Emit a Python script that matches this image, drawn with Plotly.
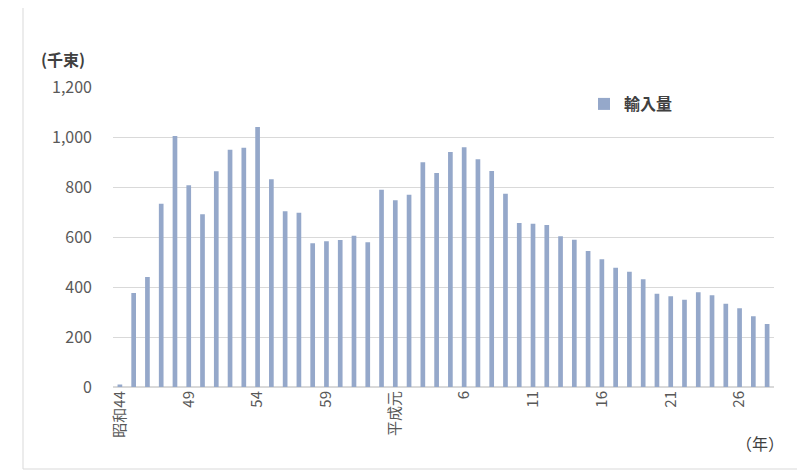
import plotly.graph_objects as go

years = list(range(1969, 2017))
labels = (["昭和44"] + [str(n) for n in range(45, 64)] + ["平成元"] + [str(n) for n in range(2, 29)])
values = [10, 376, 440, 733, 1004, 807, 691, 863, 949, 957,
          1040, 831, 703, 697, 575, 583, 588, 605, 579, 789,
          747, 769, 899, 856, 940, 959, 911, 864, 773, 656,
          653, 648, 603, 589, 544, 511, 477, 461, 431, 373,
          363, 349, 379, 367, 333, 315, 283, 252]
tick_labels = ["昭和44", "49", "54", "59", "平成元", "6", "11", "16", "21", "26"]

FONT = "Noto Sans CJK JP"
fig = go.Figure()
fig.add_trace(go.Bar(x=labels, y=values, name="<b>輸入量</b>",
                     marker=dict(color="#95A8CA", line=dict(width=0))))

OFF = 8  # page body margin
W, H = 797, 463
L, T = 113 - OFF, 87 - OFF
R = W - (774 - OFF)
B = H - (387 - OFF)
pw, ph = W - L - R, H - T - B
def px(p): return (p - OFF - L) / pw
def py(q): return (H - B - (q - OFF)) / ph

fig.update_layout(
    width=W, height=H,
    margin=dict(l=L, r=R, t=T, b=B),
    paper_bgcolor="white", plot_bgcolor="white",
    bargap=0.66,
    font=dict(family=FONT, color="#595959", size=15),
    showlegend=True,
    legend=dict(x=px(584), y=py(104), xanchor="left", yanchor="middle",
                font=dict(size=16, color="#404040"), bgcolor="rgba(0,0,0,0)",
                itemwidth=30),
    xaxis=dict(type="category", tickmode="array", tickvals=tick_labels, ticktext=tick_labels,
               tickangle=-90, showgrid=False, showline=False, ticks="",
               tickfont=dict(size=15, color="#595959")),
    yaxis=dict(range=[0, 1200], dtick=200, tickformat=",", showgrid=True,
               gridcolor="#D9D9D9", gridwidth=1, zeroline=True, zerolinecolor="#D9D9D9",
               showline=False, ticks="", ticklabelstandoff=20,
               tickfont=dict(size=16, color="#595959")),
    shapes=[dict(type="rect", xref="paper", yref="paper",
                 x0=px(23), x1=px(798), y0=py(469), y1=py(6),
                 line=dict(color="#D9D9D9", width=1), fillcolor="rgba(0,0,0,0)")],
    annotations=[
        dict(text="<b>(千束)</b>", xref="paper", yref="paper", x=px(39), y=py(59),
             xanchor="left", yanchor="middle", showarrow=False,
             font=dict(size=16, color="#404040")),
        dict(text="（年）", xref="paper", yref="paper", x=px(786), y=py(443),
             xanchor="right", yanchor="middle", showarrow=False,
             font=dict(size=16, color="#404040")),
    ],
)
fig.write_html("out.html")
